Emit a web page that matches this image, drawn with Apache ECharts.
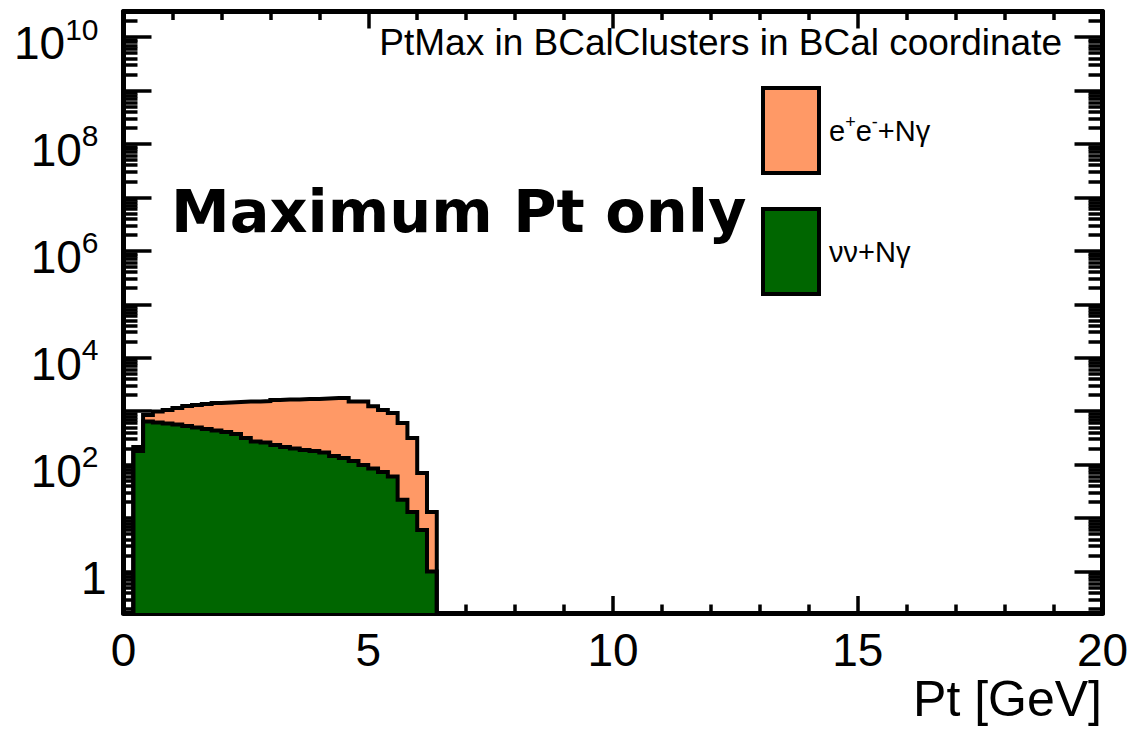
<!DOCTYPE html>
<html>
<head>
<meta charset="utf-8">
<script src="https://cdn.jsdelivr.net/npm/echarts@6/dist/echarts.min.js"></script>
<style>
html,body{margin:0;padding:0;background:#ffffff;}
#chart{width:1132px;height:730px;}
</style>
</head>
<body>
<div id="chart"></div>
<script>
// ---------------- data ----------------
const binLowEdges = [0.2, 0.4, 0.6, 0.8, 1.0, 1.2, 1.4, 1.6, 1.8, 2.0, 2.2, 2.4, 2.6, 2.8, 3.0, 3.2,
                     3.4, 3.6, 3.8, 4.0, 4.2, 4.4, 4.6, 4.8, 5.0, 5.2, 5.4, 5.6, 5.8, 6.0, 6.2];
const lastBinEdge = 6.4;
const eeCounts = [180, 847, 985, 1051, 1145, 1248, 1303, 1361, 1420, 1452, 1483, 1516, 1516, 1549, 1617, 1652,
                  1652, 1688, 1688, 1725, 1762, 1762, 1516, 1516, 1230, 1051, 923, 600, 315, 70, 13];
const nnCounts = [213, 640, 614, 588, 563, 528, 494, 464, 435, 407, 374, 315, 271, 259, 233, 213,
                  200, 188, 180, 168, 145, 133, 117, 98, 85, 73, 60, 22, 13, 6, 1];
const seriesNames = ['e+e-+Nγ', 'νν+Nγ'];
const xRange = [0, 20];
const xTickStep = 5;
const yRange = [0.1675, 3.0e10];
const yMajorExponents = [0, 1, 2, 3, 4, 5, 6, 7, 8, 9, 10];
const yLabelExponents = [0, 2, 4, 6, 8, 10];
const yMinorMultipliers = [2, 3, 4, 5, 6, 7, 8, 9];
const yMinorDecades = [-1, 0, 1, 2, 3, 4, 5, 6, 7, 8, 9, 10];
const plotTitle = 'PtMax in BCalClusters in BCal coordinate';
const xTitle = 'Pt [GeV]';
const bannerText = 'Maximum Pt only';

// ---------------- helpers ----------------
const FONT = '"Liberation Sans", Arial, Helvetica, sans-serif';
const logMin = Math.log10(yRange[0]);
const logMax = Math.log10(yRange[1]);
const yMinorValues = [];
yMinorDecades.forEach(d => yMinorMultipliers.forEach(m => {
  const v = Math.log10(m) + d;
  if (v > logMin && v < logMax) yMinorValues.push(v);
}));

function histPoints(counts) {
  const pts = [[binLowEdges[0], yRange[0]]];
  counts.forEach((c, i) => pts.push([binLowEdges[i], c]));
  pts.push([lastBinEdge, counts[counts.length - 1]]);
  pts.push([lastBinEdge, yRange[0]]);
  return pts;
}

function yLabel(v) {
  const n = Math.round(v);
  if (n === 0) return '{one|1}';
  return '{m|10}{s|' + n + '}';
}

const tickLine = {color: '#000', width: 3.5};
const frameLine = {show: true, onZero: false, lineStyle: {color: '#000', width: 5}};

function xAxisDef(pos, showLabel) {
  return {
    type: 'value', position: pos, min: xRange[0], max: xRange[1], interval: xTickStep,
    axisLine: frameLine,
    axisTick: {show: true, inside: true, length: 17, lineStyle: tickLine},
    minorTick: {show: true, splitNumber: 5, length: 8.5, lineStyle: tickLine},
    axisLabel: {show: showLabel, fontSize: 46, lineHeight: 40, color: '#000', fontFamily: FONT, margin: 17},
    splitLine: {show: false}, minorSplitLine: {show: false}
  };
}

function yTickAxis(pos, major, showLabel) {
  return {
    type: 'value', position: pos, min: logMin, max: logMax,
    axisLine: major ? frameLine : {show: false},
    axisTick: {show: true, inside: true, length: major ? 28 : 14, lineStyle: tickLine,
               customValues: major ? yMajorExponents : yMinorValues},
    axisLabel: showLabel ? {
      show: true, customValues: yLabelExponents, formatter: yLabel, margin: 17,
      padding: [12, 0, 0, 0],
      rich: {
        m: {fontSize: 46, fontFamily: FONT, color: '#000', lineHeight: 58},
        one: {fontSize: 46, fontFamily: FONT, color: '#000', lineHeight: 58},
        s: {fontSize: 30, fontFamily: FONT, color: '#000', lineHeight: 30, verticalAlign: 'top', padding: [0, 8, 0, 0]}
      }
    } : {show: false},
    splitLine: {show: false}, minorTick: {show: false}
  };
}

const chart = echarts.init(document.getElementById('chart'), null, {renderer: 'svg'});
chart.setOption({
  animation: false,
  backgroundColor: '#ffffff',
  grid: {left: 123.5, right: 29.5, top: 11.5, bottom: 117, containLabel: false, outerBoundsMode: 'none'},
  title: [
    {text: plotTitle, right: 70, top: 24, padding: 0,
     textStyle: {fontSize: 37, fontWeight: 'normal', color: '#000', fontFamily: FONT}},
    {text: bannerText, left: 171, top: 182, padding: 0,
     textStyle: {fontSize: 59, fontWeight: 'bold', color: '#000', fontFamily: '"DejaVu Sans", sans-serif'}},
    {text: xTitle, right: 30, top: 679, padding: 0,
     textStyle: {fontSize: 50, lineHeight: 40, fontWeight: 'normal', color: '#000', fontFamily: FONT}}
  ],
  legend: {
    orient: 'vertical', left: 761, top: 86, padding: 0, itemWidth: 56, itemHeight: 85, itemGap: 32,
    selectedMode: false,
    data: [
      {name: seriesNames[0], icon: 'rect', itemStyle: {color: '#ff9966', borderColor: '#000', borderWidth: 4}},
      {name: seriesNames[1], icon: 'rect', itemStyle: {color: '#006600', borderColor: '#000', borderWidth: 4}}
    ],
    formatter: function (name) {
      if (name === seriesNames[0]) return '{t|e}{u|+}{t|e}{u|-}{t|+Nγ}';
      return '{t|' + name + '}';
    },
    textStyle: {
      color: '#000', fontFamily: FONT, fontSize: 29, padding: [0, 0, 0, 5],
      rich: {
        t: {fontSize: 29, fontFamily: FONT, color: '#000', lineHeight: 36},
        u: {fontSize: 18, fontFamily: FONT, color: '#000', lineHeight: 26, verticalAlign: 'top'}
      }
    }
  },
  xAxis: [xAxisDef('bottom', true), xAxisDef('top', false)],
  yAxis: [
    {type: 'log', show: false, min: yRange[0], max: yRange[1], logBase: 10, splitLine: {show: false}},
    yTickAxis('left', true, true),
    yTickAxis('left', false, false),
    yTickAxis('right', true, false),
    yTickAxis('right', false, false)
  ],
  series: [
    {name: seriesNames[0], type: 'line', xAxisIndex: 0, yAxisIndex: 0, step: 'end',
     data: histPoints(eeCounts), symbol: 'none', showSymbol: false,
     lineStyle: {color: '#000', width: 4, join: 'miter'},
     itemStyle: {color: '#ff9966'},
     areaStyle: {color: '#ff9966', opacity: 1, origin: 'start'}},
    {name: seriesNames[1], type: 'line', xAxisIndex: 0, yAxisIndex: 0, step: 'end',
     data: histPoints(nnCounts), symbol: 'none', showSymbol: false,
     lineStyle: {color: '#000', width: 4, join: 'miter'},
     itemStyle: {color: '#006600'},
     areaStyle: {color: '#006600', opacity: 1, origin: 'start'}}
  ]
});
</script>
</body>
</html>
